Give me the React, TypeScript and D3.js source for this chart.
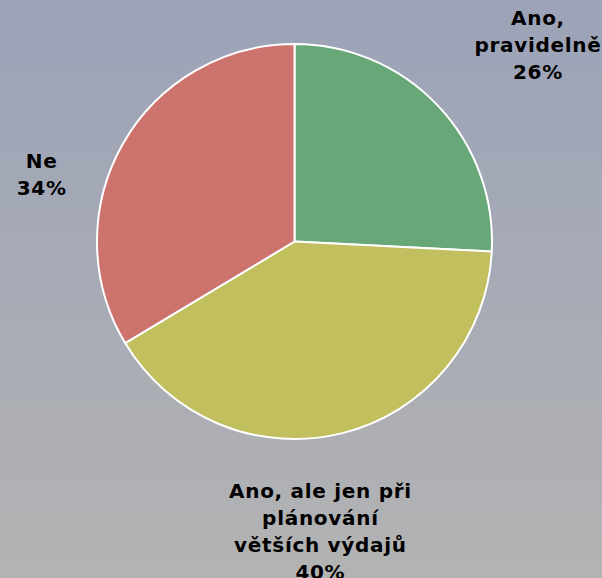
import React from "react";
import * as d3 from "d3";

const categories = ["Ano, pravidelně", "Ano, ale jen při plánování větších výdajů", "Ne"];
const values = [25.8, 40.6, 33.6];
const labelLines = [
  ["Ano,", "pravidelně", "26%"],
  ["Ano, ale jen při", "plánování", "větších výdajů", "40%"],
  ["Ne", "34%"],
];
const colors = ["#68a878", "#c2bf5f", "#cd736d"];

const W = 602;
const H = 578;
const cx = 294.5;
const cy = 241.5;
const R = 197.5;
// label anchors (angle in degrees clockwise from top, distance from centre)
const labelPos = [
  { angle: 52, dist: 309 },
  { angle: 175, dist: 297 },
  { angle: 283.5, dist: 260 },
];
const lineH = 27;

export default function App() {
  const pie = d3.pie<number>().sort(null).value((d) => d)(values);
  const arc = d3.arc<d3.PieArcDatum<number>>().innerRadius(0).outerRadius(R);
  return (
    <svg width={W} height={H} style={{ position: "absolute", left: 0, top: 0 }}>
      <defs>
        <linearGradient id="bg" x1="0" y1="0" x2="0" y2="1">
          <stop offset="0" stopColor="#9ca3b8" />
          <stop offset="1" stopColor="#b3b3b3" />
        </linearGradient>
      </defs>
      <rect x={0} y={0} width={W} height={H} fill="url(#bg)" />
      <g transform={`translate(${cx},${cy})`}>
        {pie.map((p, i) => (
          <path key={categories[i]} d={arc(p) || ""} fill={colors[i]} stroke="#ffffff" strokeWidth={2} strokeLinejoin="round" />
        ))}
        {pie.map((p, i) => {
          const a = (labelPos[i].angle * Math.PI) / 180;
          const x = Math.sin(a) * labelPos[i].dist;
          const y = -Math.cos(a) * labelPos[i].dist;
          const lines = labelLines[i];
          const y0 = y - ((lines.length - 1) * lineH) / 2 + 1;
          return (
            <text
              key={"l" + i}
              textAnchor="middle"
              fontFamily="'DejaVu Sans', Verdana, sans-serif"
              fontWeight="bold"
              fontSize={20}
              letterSpacing={0.7}
              fill="#000000"
            >
              {lines.map((ln, j) => (
                <tspan key={j} x={x} y={y0 + j * lineH}>
                  {ln}
                </tspan>
              ))}
            </text>
          );
        })}
      </g>
    </svg>
  );
}
